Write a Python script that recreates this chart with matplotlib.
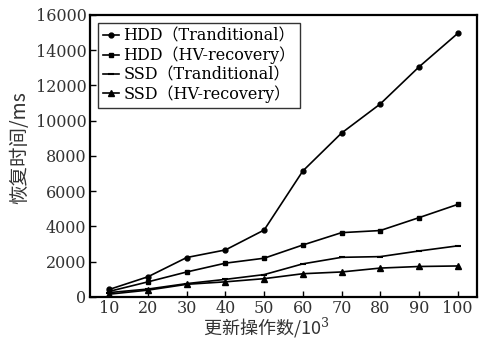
import matplotlib
matplotlib.use("Agg")
import matplotlib.pyplot as plt

x = [10, 20, 30, 40, 50, 60, 70, 80, 90, 100]
hdd_trad = [430, 1150, 2240, 2670, 3800, 7150, 9300, 10950, 13050, 14950]
hdd_hv = [320, 860, 1420, 1920, 2200, 2950, 3650, 3770, 4500, 5250]
ssd_trad = [250, 450, 760, 1000, 1270, 1880, 2250, 2290, 2610, 2900]
ssd_hv = [160, 390, 720, 860, 1040, 1320, 1420, 1640, 1730, 1760]
labels = ["HDD（Tranditional）", "HDD（HV-recovery）", "SSD（Tranditional）", "SSD（HV-recovery）"]
xticks = [10, 20, 30, 40, 50, 60, 70, 80, 90, 100]
yticks = [0, 2000, 4000, 6000, 8000, 10000, 12000, 14000, 16000]

plt.rcParams['font.family'] = ['DejaVu Serif', 'Noto Sans CJK SC']
plt.rcParams['mathtext.fontset'] = 'dejavuserif'
fig = plt.figure(figsize=(4.84, 3.40), dpi=100)
ax = fig.add_axes([0.186, 0.1265, 0.7995, 0.8295])

ax.plot(x, hdd_trad, color='black', marker='o', markersize=3.5, lw=1.2, label=labels[0])
ax.plot(x, hdd_hv, color='black', marker='s', markersize=3.5, lw=1.2, label=labels[1])
ax.plot(x, ssd_trad, color='black', marker='_', markersize=5, mew=1.5, lw=1.2, label=labels[2])
ax.plot(x, ssd_hv, color='black', marker='^', markersize=4, lw=1.2, label=labels[3])

ax.set_xlim(5, 105)
ax.set_ylim(0, 16000)
ax.set_xticks(xticks)
ax.set_yticks(yticks)
ax.tick_params(direction='in', length=4, width=1, labelsize=11.5, colors='black',
               labelcolor='#333333', pad=2.5)
for s in ax.spines.values():
    s.set_linewidth(1.6)
ax.set_xlabel('更新操作数/10$^3$', fontsize=13,
              family=['Noto Sans CJK SC', 'DejaVu Serif'], color='#333333')
ax.xaxis.set_label_coords(0.455, -0.068)
ax.set_ylabel('恢复时间/ms', fontsize=14,
              family=['Noto Sans CJK SC', 'DejaVu Serif'], color='#333333')
ax.yaxis.set_label_coords(-0.155, 0.53)

leg = ax.legend(loc='upper left', fontsize=11.5, frameon=True, fancybox=False, edgecolor='black',
                handlelength=1.0, handletextpad=0.3, borderpad=0.3, labelspacing=0.12,
                bbox_to_anchor=(0.0, 1.0), borderaxespad=0.5)
leg.get_frame().set_linewidth(1.0)

fig.savefig('out.png', dpi=100)
